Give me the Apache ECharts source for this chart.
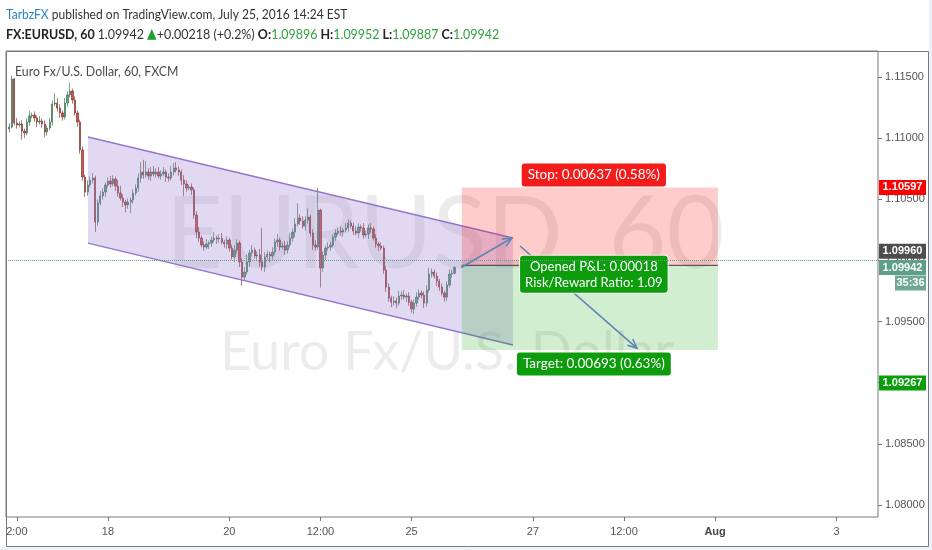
<!DOCTYPE html>
<html><head><meta charset="utf-8">
<script src="https://cdn.jsdelivr.net/npm/echarts@6/dist/echarts.min.js"></script>
<style>html,body{margin:0;padding:0;background:#fff;}#c{width:932px;height:550px;}</style>
</head><body><div id="c"></div>
<script>
// ---- data ----
const firstOpen = 1.11075;
const closes = [
1.11091,1.11484,1.11124,1.11107,1.11116,1.11058,1.11042,1.11132,1.11181,1.11189,
1.11165,1.11132,1.11140,1.11116,1.11050,1.11083,1.11132,1.11279,1.11287,1.11246,
1.11206,1.11173,1.11287,1.11353,1.11385,1.11312,1.11206,1.11132,1.10903,1.10682,
1.10559,1.10617,1.10657,1.10674,1.10314,1.10469,1.10527,1.10559,1.10617,1.10649,
1.10625,1.10666,1.10608,1.10551,1.10510,1.10477,1.10453,1.10477,1.10494,1.10551,
1.10592,1.10674,1.10723,1.10698,1.10723,1.10690,1.10723,1.10707,1.10723,1.10690,
1.10707,1.10723,1.10682,1.10674,1.10723,1.10756,1.10739,1.10723,1.10657,1.10625,
1.10592,1.10600,1.10576,1.10371,1.10232,1.10183,1.10126,1.10109,1.10134,1.10142,
1.10167,1.10183,1.10175,1.10183,1.10150,1.10134,1.10167,1.10101,1.10028,1.10085,
1.10142,1.09987,1.09864,1.09905,1.09987,1.10060,1.10085,1.10036,1.10044,1.09987,
1.09946,1.10028,1.10052,1.10036,1.10068,1.10150,1.10167,1.10109,1.10118,1.10085,
1.10126,1.10183,1.10232,1.10298,1.10347,1.10322,1.10281,1.10330,1.10355,1.10224,
1.10126,1.10109,1.10412,1.09938,1.10044,1.10101,1.10109,1.10126,1.10191,1.10224,
1.10240,1.10232,1.10248,1.10265,1.10306,1.10281,1.10240,1.10224,1.10273,1.10265,
1.10208,1.10216,1.10265,1.10257,1.10183,1.10134,1.10118,1.10101,1.09921,1.09782,
1.09692,1.09659,1.09668,1.09651,1.09709,1.09717,1.09700,1.09709,1.09659,1.09602,
1.09651,1.09700,1.09733,1.09717,1.09651,1.09758,1.09889,1.09905,1.09872,1.09831,
1.09782,1.09733,1.09700,1.09799,1.09889,1.09896,1.09942];
// upper / lower wick lengths in pips (0.0001)
const wickUp = [
3,3,1,4,2,3,2,3,4,2, 3,2,4,2,3,2,3,3,8,4, 3,2,4,3,7,2,3,2,2,3, 2,4,3,4,2,3,4,3,2,3,
4,3,2,5,6,3,2,3,2,3, 3,4,8,10,9,3,4,5,3,4, 3,4,2,3,5,4,5,3,2,4, 3,2,3,2,3,4,2,3,4,2,
3,5,2,3,4,2,3,2,3,4, 3,2,3,4,6,3,4,2,3,5, 28,4,3,2,4,3,5,2,3,4, 3,4,3,5,12,3,4,3,7,2,
3,4,18,1,3,2,4,3,2,3, 3,4,2,4,3,2,3,4,3,2, 4,3,3,4,2,3,2,3,2,3, 3,2,4,3,4,3,4,2,3,2,
3,4,3,2,3,4,5,3,2,3, 2,3,2,3,4,3,1];
const wickDn = [
3,1,2,3,2,7,4,2,3,2, 3,4,2,3,4,3,2,3,2,3, 4,3,2,3,2,3,2,4,3,3, 4,3,2,3,8,3,2,3,4,2,
3,2,4,3,2,4,6,3,9,3, 2,3,4,3,2,3,4,2,3,2, 3,2,4,3,2,3,2,3,4,10, 3,2,4,3,5,3,2,3,2,4,
3,2,4,3,2,3,4,3,2,4, 3,4,7,3,2,4,3,2,3,4, 3,4,2,5,3,2,4,3,2,4, 3,2,3,4,2,3,2,4,3,3,
4,3,2,16,3,4,2,3,2,3, 2,3,4,2,3,2,3,2,4,3, 3,2,4,3,2,3,4,2,3,4, 3,4,3,4,2,3,2,4,3,3,
4,3,2,3,4,3,2,3,2,4, 3,2,4,3,2,3,0.9];
const xTickSlots  = [3, 39, 87, 123, 159, 207, 243, 279, 327];
const xTickLabels = ['2:00','18','20','12:00','25','27','12:00','Aug','3'];
const yTickValues = [1.080,1.085,1.090,1.095,1.100,1.105,1.110,1.115];
const channelX     = [31.1, 199.1];
const channelUpper = [1.11009, 1.10183];
const channelLower = [1.10142, 1.09308];
const positionX = [178.9, 280.1];
const stopPrice = 1.10597, entryPrice = 1.09960, targetPrice = 1.09267, lastPrice = 1.09942;
const arrowUp   = [[178.6, 1.09942], [198.7, 1.10183]];
const arrowDown = [[201.9, 1.10118], [248.1, 1.09283]];
const countdown = '35:36';

// ---- build ----
const FONT = "Lato, 'Liberation Sans', sans-serif";
const AXF = "'Liberation Sans', Arial, sans-serif";
const candles = closes.map((c, i) => {
  const o = i === 0 ? firstOpen : closes[i - 1];
  const h = +(Math.max(o, c) + wickUp[i] * 1e-4).toFixed(5);
  const l = +(Math.min(o, c) - wickDn[i] * 1e-4).toFixed(5);
  return [i, o, c, l, h];
});

const chart = echarts.init(document.getElementById('c'));

function arrowEls(api, a, b, color) {
  const p1 = api.coord(a), p2 = api.coord(b);
  const ang = Math.atan2(p2[1] - p1[1], p2[0] - p1[0]);
  const L = 10, s = 0.42;
  const h1 = [p2[0] - L * Math.cos(ang - s), p2[1] - L * Math.sin(ang - s)];
  const h2 = [p2[0] - L * Math.cos(ang + s), p2[1] - L * Math.sin(ang + s)];
  return [
    {type: 'line', shape: {x1: p1[0], y1: p1[1], x2: p2[0], y2: p2[1]}, style: {stroke: color, lineWidth: 1.6}},
    {type: 'polyline', shape: {points: [h1, p2, h2]}, style: {stroke: color, lineWidth: 1.6, fill: null}}
  ];
}

const option = {
  backgroundColor: '#fff',
  animation: false,
  grid: {left: 6, top: 51, right: 54, bottom: 33, show: true, borderColor: '#7a7a7a', borderWidth: 1, backgroundColor: 'transparent'},
  xAxis: {
    type: 'value', min: -1.29, max: 343.4,
    splitLine: {show: false}, axisLine: {show: false, onZero: false},
    axisTick: {show: true, customValues: xTickSlots, length: 4, lineStyle: {color: '#777'}},
    axisLabel: {
      customValues: xTickSlots, margin: 9, color: '#555', fontSize: 11, fontFamily: AXF,
      formatter: v => { const k = xTickLabels[xTickSlots.indexOf(v)]; return k === 'Aug' ? '{b|Aug}' : k; },
      rich: {b: {fontWeight: 'bold', fontSize: 11, color: '#444', fontFamily: AXF}}
    }
  },
  yAxis: {
    type: 'value', position: 'right', min: 1.079019, max: 1.117126, scale: true,
    splitLine: {show: false}, axisLine: {show: false, onZero: false},
    axisTick: {show: true, customValues: yTickValues, length: 4, lineStyle: {color: '#777'}},
    axisLabel: {customValues: yTickValues, margin: 7, color: '#555', fontSize: 11, fontFamily: AXF, formatter: v => v.toFixed(5)}
  },
  graphic: [
    {type: 'rect', shape: {x: 0, y: 547, width: 932, height: 3}, style: {fill: '#eef2f7'}},
    {type: 'rect', shape: {x: 929, y: 0, width: 3, height: 550}, style: {fill: '#eef2f7'}},
    {type: 'rect', shape: {x: 6.5, y: 51.5, width: 922, height: 495}, style: {fill: null, stroke: '#7a7a7a', lineWidth: 1}},
    {type: 'text', x: 6, y: 14, scaleX: 0.86, style: {
      text: '{a|TarbzFX}{t| published on TradingView.com, July 25, 2016 14:24 EST}', verticalAlign: 'middle',
      rich: {a: {fill: '#2b86c5', fontSize: 14, fontFamily: FONT}, t: {fill: '#333', fontSize: 14, fontFamily: FONT}}}},
    {type: 'text', x: 6, y: 34, scaleX: 0.89, style: {
      text: '{b|FX:EURUSD, 60} {t|1.09942 }{g|▲}{t|+0.00218 (+0.2%) }{b|O:}{v|1.09896} {b|H:}{v|1.09952} {b|L:}{v|1.09887} {b|C:}{v|1.09942}',
      verticalAlign: 'middle',
      rich: {
        b: {fill: '#222', fontSize: 14, fontWeight: 'bold', fontFamily: FONT},
        t: {fill: '#333', fontSize: 14, fontFamily: FONT},
        g: {fill: '#1f9e2c', fontSize: 14, fontFamily: 'DejaVu Sans'},
        v: {fill: '#2fa23d', fontSize: 14, fontFamily: FONT}
      }}},
    {type: 'text', x: 15, y: 71, scaleX: 0.88, style: {text: 'Euro Fx/U.S. Dollar, 60, FXCM', fill: '#4a4a4a', fontSize: 14, fontFamily: FONT, verticalAlign: 'middle'}},
    {type: 'text', x: 445, y: 236, style: {text: 'EURUSD, 60', fill: 'rgba(0,0,0,0.075)', fontSize: 100, fontFamily: FONT, align: 'center', verticalAlign: 'middle'}},
    {type: 'text', x: 447, y: 353, style: {text: 'Euro Fx/U.S. Dollar', fill: 'rgba(0,0,0,0.075)', fontSize: 54, fontFamily: FONT, align: 'center', verticalAlign: 'middle'}}
  ],
  series: [
    {
      type: 'candlestick', z: 2,
      dimensions: ['t', 'open', 'close', 'lowest', 'highest'],
      encode: {x: 't', y: ['open', 'close', 'lowest', 'highest']},
      data: candles, barWidth: 1.8,
      itemStyle: {color: '#5fa27b', color0: '#d9534a', borderColor: '#2c5e40', borderColor0: '#6e2119', borderWidth: 0.6},
      markLine: {
        silent: true, symbol: 'none', label: {show: false},
        lineStyle: {type: 'dotted', color: '#5f9f8c', width: 1},
        data: [{yAxis: lastPrice}]
      }
    },
    {
      type: 'custom', z: 3, silent: true,
      data: [[channelX[0], channelUpper[0]]],
      renderItem: (params, api) => {
        const p = [[channelX[0], channelUpper[0]], [channelX[1], channelUpper[1]],
                   [channelX[1], channelLower[1]], [channelX[0], channelLower[0]]].map(d => api.coord(d));
        return {type: 'group', children: [
          {type: 'polygon', shape: {points: p}, style: {fill: 'rgba(155,130,212,0.3)'}},
          {type: 'line', shape: {x1: p[0][0], y1: p[0][1], x2: p[1][0], y2: p[1][1]}, style: {stroke: '#9575cd', lineWidth: 1.4}},
          {type: 'line', shape: {x1: p[3][0], y1: p[3][1], x2: p[2][0], y2: p[2][1]}, style: {stroke: '#9575cd', lineWidth: 1.4}}
        ]};
      }
    },
    {
      type: 'custom', z: 4, silent: true,
      data: [[positionX[0], entryPrice]],
      renderItem: (params, api) => {
        const a = api.coord([positionX[0], stopPrice]);
        const e = api.coord([positionX[1], entryPrice]);
        const t = api.coord([positionX[1], targetPrice]);
        const arrowColor = '#5f85b5';
        const cx = (a[0] + e[0]) / 2 + 4;
        const lbl = (text, y, bg, fs, pad) => ({type: 'text', x: cx, y: y, z2: 10, style: {
          text: text, fill: '#fff', fontSize: fs, fontFamily: FONT, align: 'center', verticalAlign: 'middle',
          backgroundColor: bg, padding: pad, borderRadius: 3, lineHeight: 16, borderColor: 'rgba(255,255,255,0.8)', borderWidth: 1}});
        return {type: 'group', children: [
          {type: 'rect', shape: {x: a[0], y: a[1], width: e[0] - a[0], height: e[1] - a[1]}, style: {fill: 'rgba(255,0,0,0.2)'}},
          {type: 'rect', shape: {x: a[0], y: e[1], width: e[0] - a[0], height: t[1] - e[1]}, style: {fill: 'rgba(0,160,0,0.18)'}},
          {type: 'line', shape: {x1: a[0], y1: e[1], x2: e[0], y2: e[1]}, style: {stroke: '#3a3a3a', lineWidth: 1}},
          ...arrowEls(api, arrowUp[0], arrowUp[1], arrowColor),
          ...arrowEls(api, arrowDown[0], arrowDown[1], arrowColor),
          lbl('Stop: 0.00637 (0.58%)', a[1] - 12.5, '#f41b1b', 13.5, [4, 6, 3, 6]),
          lbl('Opened P&L: 0.00018\nRisk/Reward Ratio: 1.09', e[1] + 9, '#0c9c0c', 13, [3, 5, 2, 5]),
          lbl('Target: 0.00693 (0.63%)', t[1] + 14, '#0c9c0c', 13.5, [4, 6, 3, 6])
        ]};
      }
    },
    {
      type: 'custom', z: 7, silent: true, clip: false,
      data: [[positionX[0], lastPrice]],
      renderItem: (params, api) => {
        const xr = params.coordSys.x + params.coordSys.width + 1;
        const tag = (price, dy, text, bg, w, x0) => {
          const y = api.coord([0, price])[1] + dy;
          const xs = x0 != null ? x0 : xr;
          return [
            {type: 'rect', shape: {x: xs, y: y - 7.5, width: w, height: 15}, style: {fill: bg}},
            {type: 'text', x: xs + w / 2, y: y, style: {text: text, fill: '#fff', fontSize: 11, fontWeight: 'bold', fontFamily: AXF, align: 'center', verticalAlign: 'middle'}}
          ];
        };
        return {type: 'group', children: [
          ...tag(stopPrice, 0, stopPrice.toFixed(5), '#ff0000', 47),
          ...tag(entryPrice, -14, entryPrice.toFixed(5), '#4d4d4d', 47),
          ...tag(lastPrice, 0, lastPrice.toFixed(5), '#5e9f89', 47),
          ...tag(lastPrice, 15.5, countdown, '#6ea795', 31, xr + 16),
          ...tag(targetPrice, 33, targetPrice.toFixed(5), '#0a9d0a', 47)
        ]};
      }
    }
  ]
};
chart.setOption(option);
</script>
</body></html>
